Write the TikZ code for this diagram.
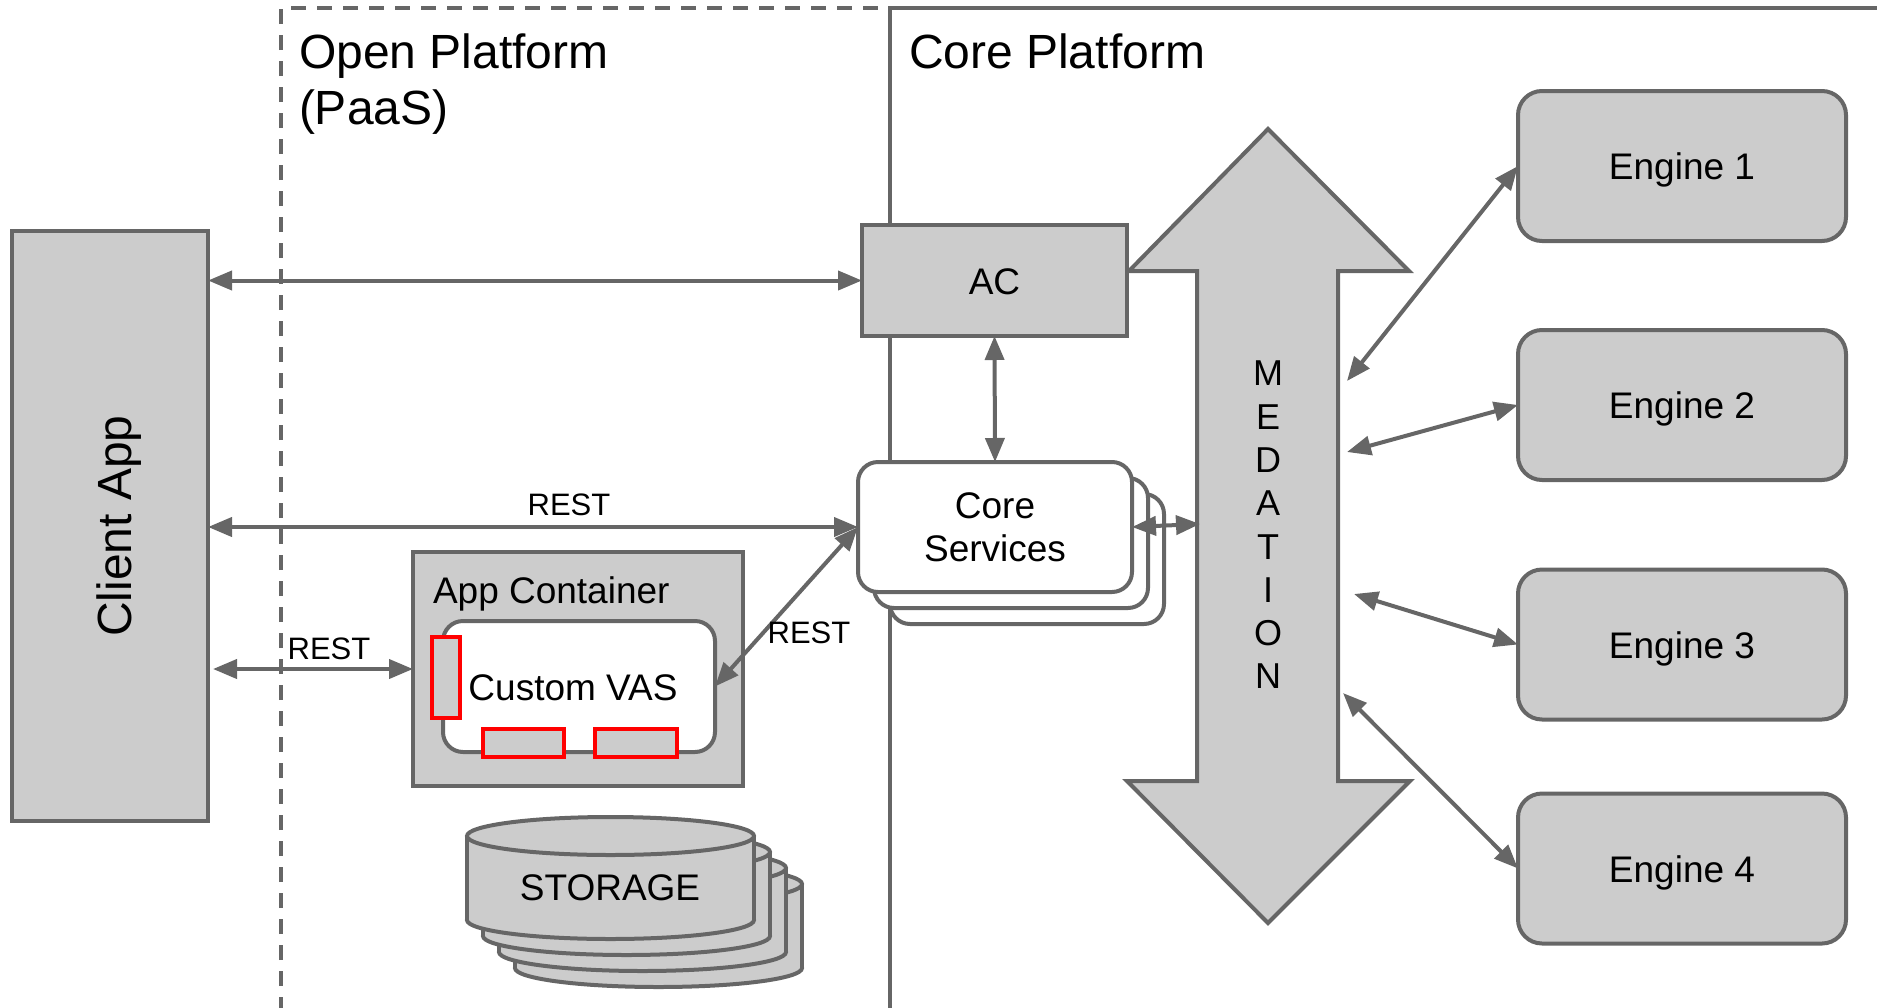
\documentclass[tikz,border=0pt]{standalone}
\usepackage{fontspec}
\setmainfont{Liberation Sans}
\usetikzlibrary{arrows.meta}
\definecolor{ln}{HTML}{666666}
\definecolor{fl}{HTML}{CCCCCC}
\definecolor{rd}{HTML}{FF0000}
\begin{document}
\begin{tikzpicture}[x=1pt,y=-1pt,
  every node/.style={inner sep=0pt, outer sep=0pt},
  graybox/.style={draw=ln, line width=4pt, fill=fl, rectangle},
  whitebox/.style={draw=ln, line width=4pt, fill=white, rounded corners=20pt},
  enginebox/.style={draw=ln, line width=4pt, fill=fl, rounded corners=24pt, minimum width=328pt, minimum height=150pt, font=\fontsize{37}{43}\selectfont, text height=27pt, text depth=0pt},
  redbox/.style={draw=rd, line width=4pt, fill=fl},
  conn/.style={draw=ln, line width=4pt, >={Triangle[length=24pt,width=19pt]}, <->},
  lbl/.style={font=\fontsize{37}{43}\selectfont},
  big/.style={font=\fontsize{48}{56}\selectfont},
  restlbl/.style={font=\fontsize{31}{36}\selectfont, text height=22pt, text depth=0pt},
]
\useasboundingbox (0,0) rectangle (1877,1007);
% platform frames
\draw[ln, line width=3.5pt] (890,1012) -- (890,8) -- (1882,8);
\draw[ln, line width=3.5pt, dash pattern=on 15pt off 11pt] (281,1012) -- (281,8) -- (890,8);
\node[big, anchor=base west] (opent1) at (299,68) {Open Platform};
\node[big, anchor=base west] (opent2) at (299,124) {(PaaS)};
\node[big, anchor=base west] (coret) at (909,68) {Core Platform};

% mediation arrow
\draw[draw=ln, line width=4pt, fill=fl, line join=miter]
  (1268,129) -- (1409,271) -- (1338,271) -- (1338,781) -- (1410,781) -- (1268,923)
  -- (1127,781) -- (1197,781) -- (1197,271) -- (1129,271) -- cycle;
\node[font=\fontsize{36}{43.3}\selectfont, align=center] (medlbl) at (1268,525) {M\\E\\D\\A\\T\\I\\O\\N};
\coordinate (medc) at (1200,524);
\coordinate (m1) at (1347,381);
\coordinate (m2) at (1347,452);
\coordinate (m3) at (1354,594);
\coordinate (m4) at (1343,693);

% client app
\node[graybox, minimum width=196pt, minimum height=590pt] (client) at (110,526) {};
\node[big, rotate=90, text height=34pt, text depth=0pt] (clientlbl) at (114,526) {Client App};

% AC
\node[graybox, minimum width=265pt, minimum height=111pt, lbl, text height=27pt, text depth=0pt] (ac) at (994.5,280.5) {AC};

% core services stack
\node[whitebox, minimum width=274pt, minimum height=130pt] (cs3) at (1027,559) {};
\node[whitebox, minimum width=274pt, minimum height=130pt] (cs2) at (1011,543) {};
\node[whitebox, minimum width=274pt, minimum height=130pt, lbl, align=center] (cs) at (995,527) {Core\\Services};

% app container
\node[graybox, minimum width=330pt, minimum height=234pt] (appc) at (578,669) {};
\node[lbl, anchor=base west] (appclbl) at (433,603) {App Container};
\node[whitebox, minimum width=272pt, minimum height=131pt] (vas) at (579,686.5) {};
\node[lbl, text height=27pt, text depth=0pt] (vaslbl) at (573,687) {Custom VAS};
\node[redbox, minimum width=28pt, minimum height=81pt] (red1) at (446,677.5) {};
\node[redbox, minimum width=81pt, minimum height=28pt] (red2) at (523.5,743) {};
\node[redbox, minimum width=82pt, minimum height=28pt] (red3) at (636,743) {};

% storage
\foreach \k in {3,2,1,0}{
  \begin{scope}[shift={(16*\k,16*\k)}]
    \filldraw[fill=fl, draw=ln, line width=4pt] (610.5,920) ellipse [x radius=143.5pt, y radius=19pt];
    \fill[fl] (467,836) rectangle (754,920);
    \draw[ln, line width=4pt] (467,836) -- (467,920) (754,836) -- (754,920);
    \filldraw[fill=fl, draw=ln, line width=4pt] (610.5,836) ellipse [x radius=143.5pt, y radius=19pt];
  \end{scope}
}
\node[lbl, text height=27pt, text depth=0pt] (storage) at (610,887) {STORAGE};

% engines
\node[enginebox] (e1) at (1682,166) {Engine 1};
\node[enginebox] (e2) at (1682,405) {Engine 2};
\node[enginebox] (e3) at (1682,644.5) {Engine 3};
\node[enginebox] (e4) at (1682,868.5) {Engine 4};

% connectors
\draw[conn] (client.east |- ac.west) -- (ac.west);
\draw[conn] (client.east |- cs.west) -- (cs.west);
\node[restlbl] (rest1) at (569,504) {REST};
\draw[conn] ([xshift=5pt]client.east |- appc.west) -- (appc.west);
\node[restlbl] (rest2) at (329,648) {REST};
\draw[conn] (cs.west) -- (vas.east);
\node[restlbl] (rest3) at (809,632) {REST};
\draw[conn] (ac.south) -- (cs.north);
\draw[conn] (cs.east) -- (medc);
\draw[conn] (m1) -- (e1.west);
\draw[conn] (m2) -- (e2.west);
\draw[conn] (m3) -- (e3.west);
\draw[conn] (m4) -- (e4.west);
\end{tikzpicture}
\end{document}
